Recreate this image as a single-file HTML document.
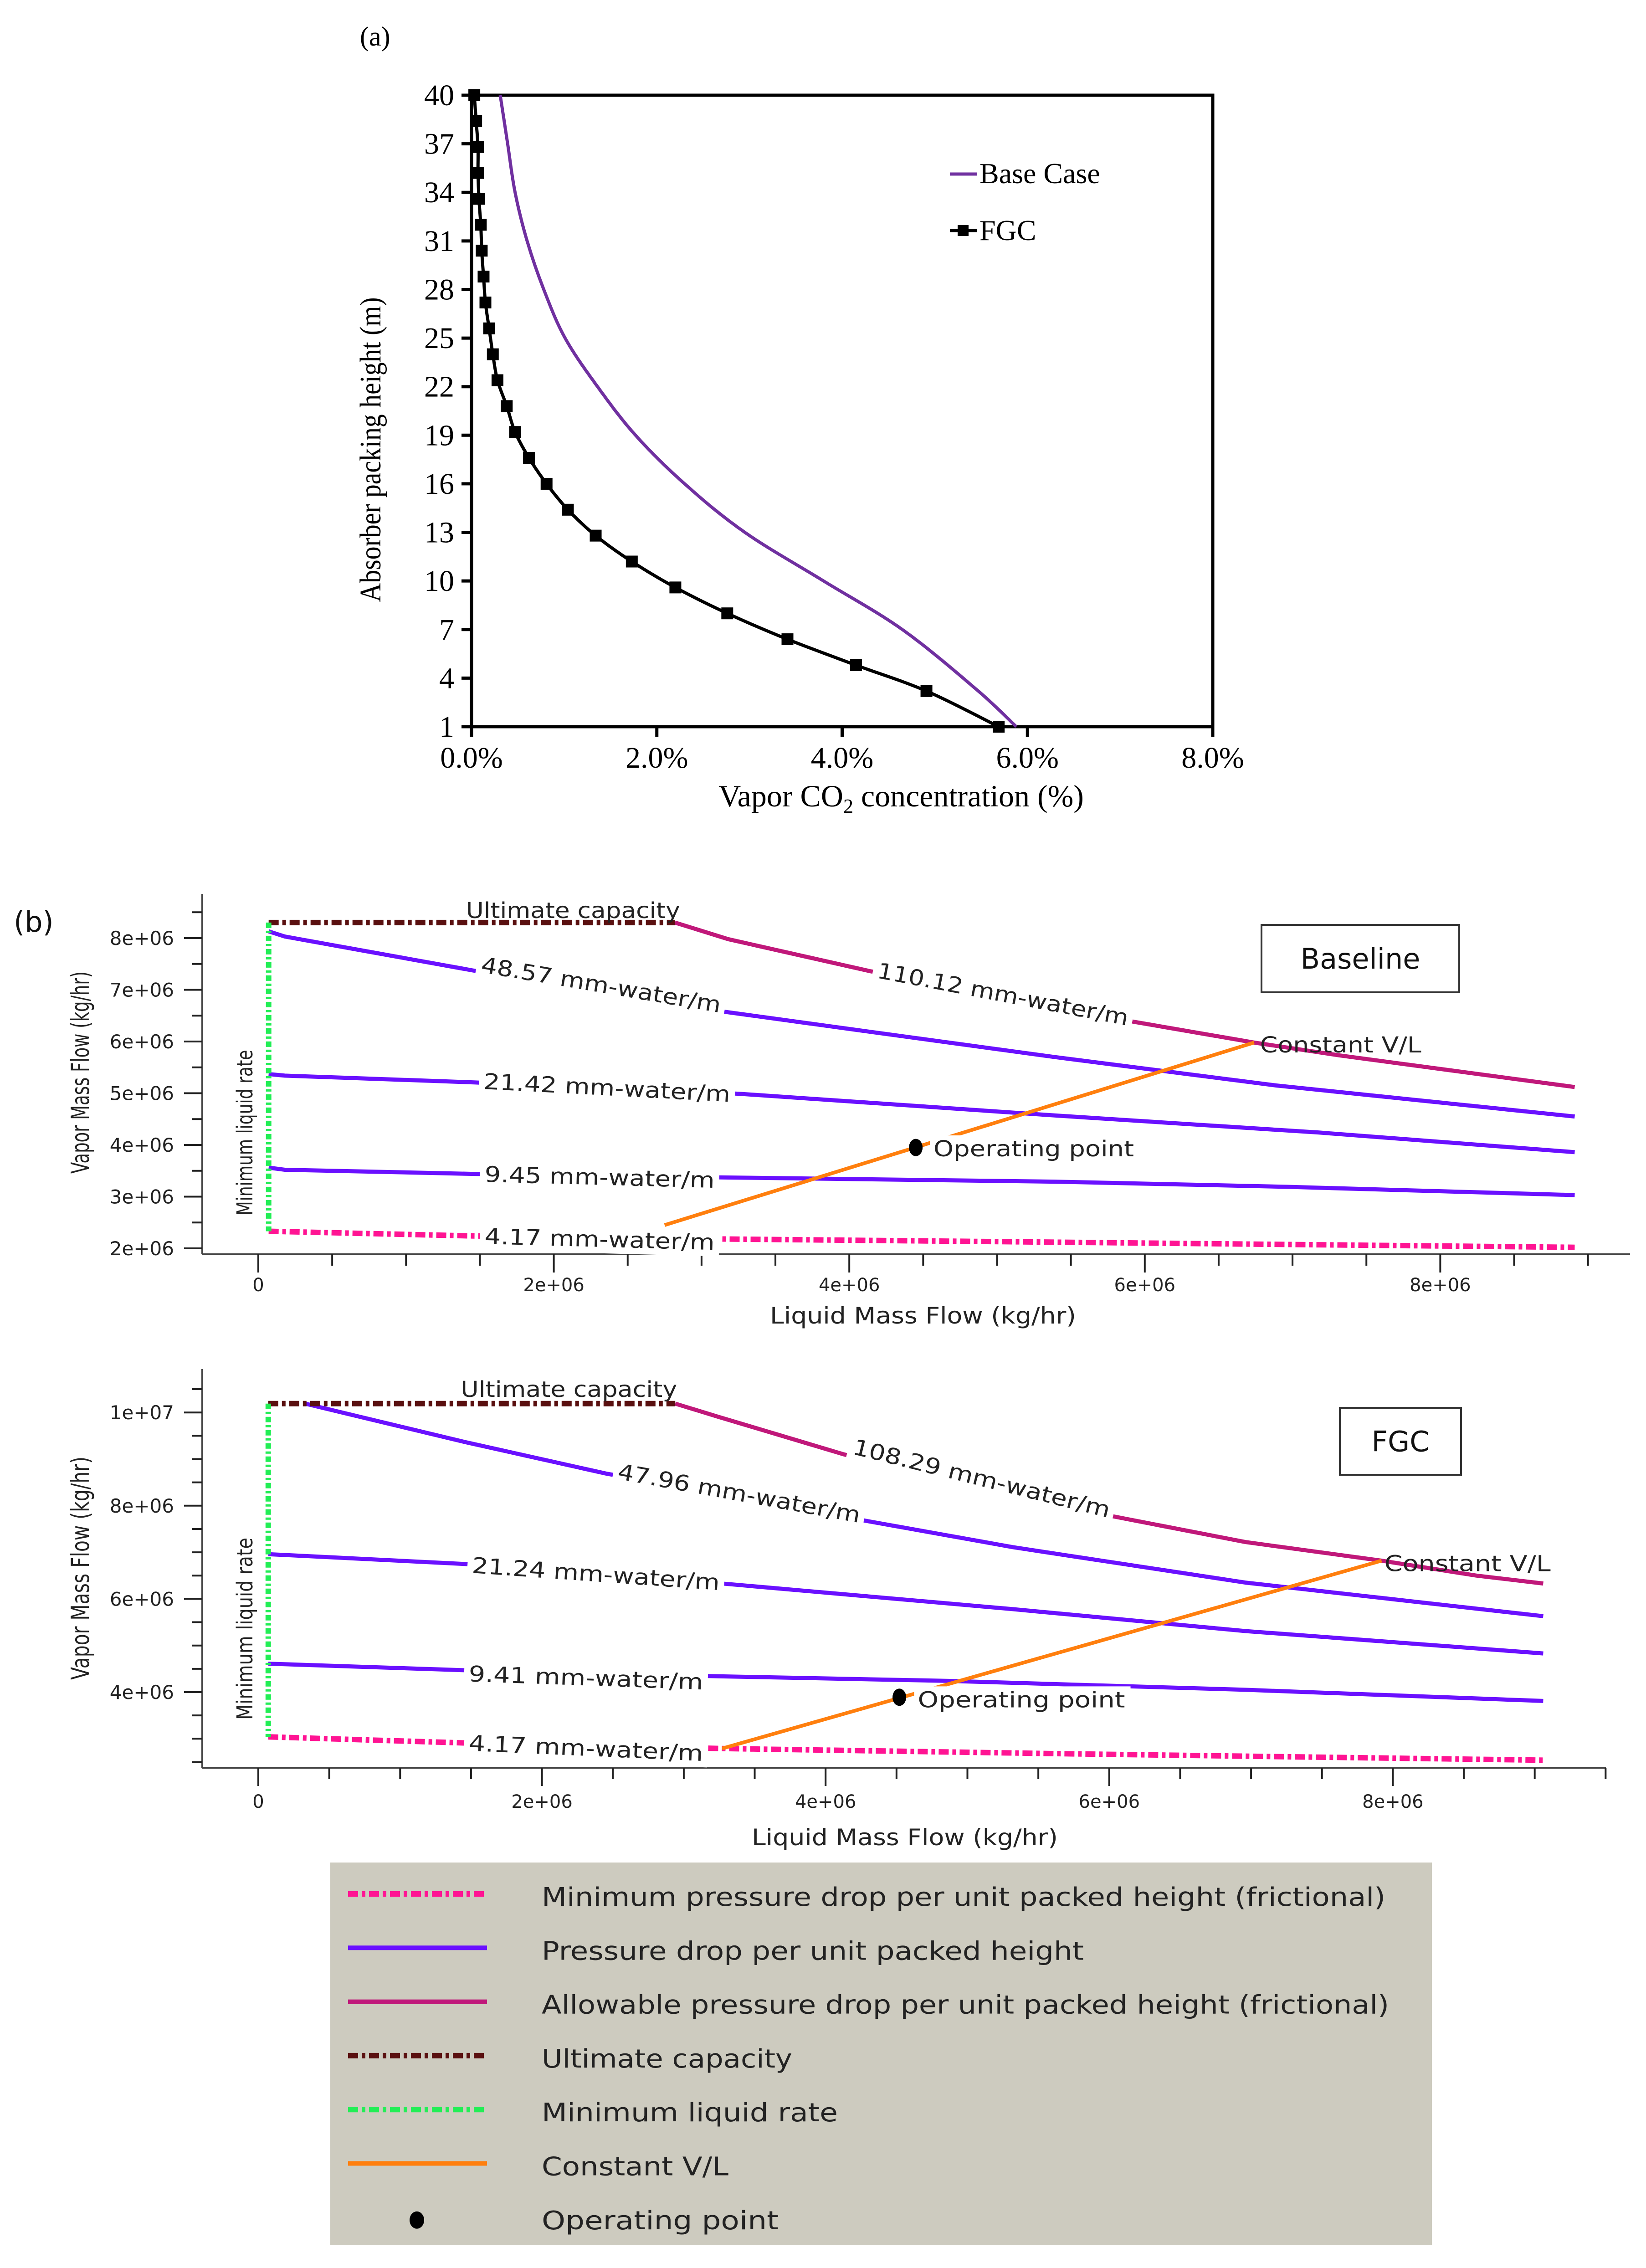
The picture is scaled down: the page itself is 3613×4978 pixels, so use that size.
<!DOCTYPE html>
<html><head><meta charset="utf-8"><style>
html,body{margin:0;padding:0;background:#fff}
svg{display:block}
.serif{font-family:"Liberation Serif",serif}
.sans{font-family:"DejaVu Sans","Liberation Sans",sans-serif}
</style></head><body>
<svg id="fig" width="3613" height="4978" viewBox="0 0 3613 4978" xmlns="http://www.w3.org/2000/svg">
<rect width="3613" height="4978" fill="#fff"/>
<g id="chartA"></g>
<g id="chartB1"></g>
<g id="chartB2"></g>
<g id="legendB"></g>
</svg>
<script>
// ---------- Chart (a) data ----------
const aYTicks = [1,4,7,10,13,16,19,22,25,28,31,34,37,40];
const aXTicks = [0,2,4,6,8];
const baseCaseX = [5.88,5.45,4.65,3.80,2.95,2.30,1.77,1.36,1.01,0.78,0.60,0.47,0.39,0.31];
const baseCaseY = [1,3.3,7,10,13,16,19,22,25,28,31,34,37,40];
const fgcX = [5.69,4.91,4.15,3.41,2.76,2.20,1.73,1.34,1.04,0.81,0.62,0.47,0.38,0.28,0.23,0.19,0.15,0.13,0.11,0.10,0.08,0.07,0.07,0.05,0.03];
const fgcY = [1.0,3.2,4.8,6.4,8.0,9.6,11.2,12.8,14.4,16.0,17.6,19.2,20.8,22.4,24.0,25.6,27.2,28.8,30.4,32.0,33.6,35.2,36.8,38.4,40];

// ---------- Chart (b) Baseline data (L, V in 1e6 kg/hr) ----------
const bTicksX = [0,2,4,6,8];
const b1TicksY = [2,3,4,5,6,7,8];
const b1UltL = [0.07,2.82];
const b1UltV = [8.30,8.30];
const b1MinLiqL = [0.07,0.07];
const b1MinLiqV = [8.30,2.33];
const b1AllowL = [2.82,3.18,4.14,5.93,6.74,7.32,8.91];
const b1AllowV = [8.30,7.98,7.36,6.38,5.98,5.73,5.12];
const b1P48L = [0.07,0.18,1.46,2.89,4.11,5.39,6.89,8.91];
const b1P48V = [8.13,8.03,7.37,6.68,6.20,5.70,5.15,4.55];
const b1P21L = [0.07,0.18,1.46,3.25,5.39,7.18,8.91];
const b1P21V = [5.37,5.34,5.21,4.99,4.57,4.24,3.86];
const b1P9L = [0.07,0.18,1.46,3.18,5.39,6.96,8.91];
const b1P9V = [3.56,3.52,3.44,3.37,3.29,3.19,3.03];
const b1MinPL = [0.07,1.46,3.18,5.39,8.91];
const b1MinPV = [2.33,2.24,2.18,2.12,2.02];
const b1VLL = [2.75,6.74];
const b1VLV = [2.45,5.98];
const b1OpL = [4.45];
const b1OpV = [3.95];

// ---------- Chart (b) FGC data ----------
const b2TicksY = [4,6,8,10];
const b2UltL = [0.07,2.94];
const b2UltV = [10.19,10.19];
const b2MinLiqL = [0.07,0.07];
const b2MinLiqV = [10.19,3.04];
const b2AllowL = [2.94,3.24,4.13,5.32,6.96,7.92,8.59,9.06];
const b2AllowV = [10.19,9.91,9.10,8.19,7.22,6.82,6.50,6.33];
const b2P47L = [0.33,1.45,2.45,4.13,5.32,6.96,9.06];
const b2P47V = [10.19,9.37,8.69,7.76,7.11,6.35,5.63];
const b2P21L = [0.07,1.45,3.31,5.32,6.96,9.06];
const b2P21V = [6.96,6.75,6.32,5.78,5.31,4.83];
const b2P9L = [0.07,1.45,3.24,4.87,6.96,9.06];
const b2P9V = [4.61,4.47,4.34,4.24,4.05,3.81];
const b2MinPL = [0.07,1.45,3.27,5.62,9.06];
const b2MinPV = [3.04,2.91,2.79,2.68,2.54];
const b2VLL = [3.27,7.92];
const b2VLV = [2.79,6.82];
const b2OpL = [4.52];
const b2OpV = [3.89];

const NS = "http://www.w3.org/2000/svg";
function mk(parent, tag, attrs, text){
  const e = document.createElementNS(NS, tag);
  for (const k in attrs) e.setAttribute(k, attrs[k]);
  if (text !== undefined) e.textContent = text;
  parent.appendChild(e);
  return e;
}
function smoothPath(pts){
  let d = 'M'+pts[0][0].toFixed(1)+' '+pts[0][1].toFixed(1);
  for (let i=0;i<pts.length-1;i++){
    const p0=pts[Math.max(0,i-1)], p1=pts[i], p2=pts[i+1], p3=pts[Math.min(pts.length-1,i+2)];
    const c1=[p1[0]+(p2[0]-p0[0])/6, p1[1]+(p2[1]-p0[1])/6];
    const c2=[p2[0]-(p3[0]-p1[0])/6, p2[1]-(p3[1]-p1[1])/6];
    d += ' C'+c1[0].toFixed(1)+' '+c1[1].toFixed(1)+' '+c2[0].toFixed(1)+' '+c2[1].toFixed(1)+' '+p2[0].toFixed(1)+' '+p2[1].toFixed(1);
  }
  return d;
}

// ================= Chart (a) =================
(function(){
  const g = document.getElementById('chartA');
  const X0=1035, X1=2662, Y0=1595, Y1=209;
  const sx = v => X0 + (v/8)*(X1-X0);
  const sy = v => Y0 - ((v-1)/39)*(Y0-Y1);
  let t = mk(g,'text',{x:790,y:100,'font-size':60,class:'serif'},'(a)');
  
  
  let r = mk(g,'rect',{x:X0,y:Y1,width:X1-X0,height:Y0-Y1,fill:'none',stroke:'#000','stroke-width':7});
  
  
  aYTicks.forEach(v=>{
    const y=sy(v);
    const l = mk(g,'line',{x1:X0-22,x2:X0,y1:y,y2:y,stroke:'#000','stroke-width':7});
    
    
    const tx = mk(g,'text',{x:X0-38,y:y+22,'font-size':66,'text-anchor':'end',class:'serif'},String(v));
    
    
  });
  aXTicks.forEach(v=>{
    const x=sx(v);
    const l = mk(g,'line',{x1:x,x2:x,y1:Y0,y2:Y0+22,stroke:'#000','stroke-width':7});
    
    
    const tx = mk(g,'text',{x:x,y:Y0+90,'font-size':66,'text-anchor':'middle',class:'serif'},v.toFixed(1)+'%');
    
    
  });
  t = mk(g,'text',{x:1978,y:1770,'font-size':68,'text-anchor':'middle',class:'serif'});
  t.innerHTML = 'Vapor CO<tspan font-size="44" dy="14">2</tspan><tspan dy="-14"> concentration (%)</tspan>';
  
  
  t = mk(g,'text',{x:0,y:0,'font-size':66,'text-anchor':'middle',class:'serif',transform:'translate(835,987) rotate(-90)',textLength:669,lengthAdjust:'spacingAndGlyphs'},'Absorber packing height (m)');
  
  

  let p = mk(g,'path',{d:smoothPath(baseCaseX.map((v,i)=>[sx(v),sy(baseCaseY[i])])),fill:'none',stroke:'#7030a0','stroke-width':7,'stroke-linejoin':'round'});
  
  
  p = mk(g,'path',{d:smoothPath(fgcX.map((v,i)=>[sx(v),sy(fgcY[i])])),fill:'none',stroke:'#000','stroke-width':7,'stroke-linejoin':'round'});
  
  
  fgcX.forEach((v,i)=>{
    const m = mk(g,'rect',{x:sx(v)-13,y:sy(fgcY[i])-13,width:26,height:26,fill:'#000'});
    
    
  });
  let l = mk(g,'line',{x1:2085,x2:2145,y1:382,y2:382,stroke:'#7030a0','stroke-width':7});
  
  
  t = mk(g,'text',{x:2150,y:402,'font-size':64,class:'serif'},'Base Case');
  
  
  l = mk(g,'line',{x1:2085,x2:2145,y1:506,y2:506,stroke:'#000','stroke-width':7});
  
  
  const lm = mk(g,'rect',{x:2102,y:494,width:24,height:24,fill:'#000'});
  
  
  t = mk(g,'text',{x:2150,y:527,'font-size':64,class:'serif'},'FGC');
  
  
})();

// ================= Chart (b) panels =================
const COL = {purple:'#6a10ff', allow:'#c0187a', ult:'#5a1010', green:'#22ee55', pink:'#ff1493', orange:'#ff7f0e'};

function panel(cfg){
  const g = document.getElementById(cfg.id);
  const sx = v => cfg.x0 + v*cfg.px;
  const sy = v => cfg.yRef - (v-cfg.vRef)*cfg.py;
  let a = mk(g,'line',{x1:cfg.axX,x2:cfg.axX,y1:cfg.axTop,y2:cfg.axY,stroke:'#444','stroke-width':4});
  
  
  a = mk(g,'line',{x1:cfg.axX,x2:cfg.axRight,y1:cfg.axY,y2:cfg.axY,stroke:'#444','stroke-width':4});
  
  
  for (let v=cfg.yMinorLo; v<=cfg.yMinorHi+1e-9; v+=0.5){
    const major = cfg.ticksY.some(t=>Math.abs(t-v)<1e-6);
    const y=sy(v);
    const l = mk(g,'line',{x1:cfg.axX-(major?40:22),x2:cfg.axX,y1:y,y2:y,stroke:'#222','stroke-width':4});
    
    
  }
  cfg.ticksY.forEach(v=>{
    const t = mk(g,'text',{x:382,y:sy(v)+15,'font-size':42,'text-anchor':'end',class:'sans',fill:'#222'},v>=10?'1e+07':v+'e+06');
    
    
  });
  for (let v=0; v<=cfg.xMinorHi+1e-9; v+=0.5){
    const major = Math.abs(v-Math.round(v))<1e-6 && Math.round(v)%2===0;
    const x=sx(v);
    const l = mk(g,'line',{x1:x,x2:x,y1:cfg.axY,y2:cfg.axY+(major?40:25),stroke:'#222','stroke-width':4});
    
    
  }
  bTicksX.forEach(v=>{
    const t = mk(g,'text',{x:sx(v),y:cfg.xLabY,'font-size':40,'text-anchor':'middle',class:'sans',fill:'#222'},v===0?'0':v+'e+06');
    
    
  });
  let t = mk(g,'text',{x:cfg.xTitleX,y:cfg.xTitleY,'font-size':50,'text-anchor':'middle',class:'sans',fill:'#222',textLength:672,lengthAdjust:'spacingAndGlyphs'},'Liquid Mass Flow (kg/hr)');
  
  
  t = mk(g,'text',{x:0,y:0,'font-size':54,'text-anchor':'middle',class:'sans',fill:'#222',transform:'translate(195,'+cfg.yTitleY+') rotate(-90)',textLength:cfg.yTitleLen,lengthAdjust:'spacingAndGlyphs'},'Vapor Mass Flow (kg/hr)');
  
  
  t = mk(g,'text',{x:0,y:0,'font-size':48,'text-anchor':'middle',class:'sans',fill:'#222',transform:'translate(554,'+cfg.minLiqY+') rotate(-90)',textLength:cfg.minLiqLen,lengthAdjust:'spacingAndGlyphs'},'Minimum liquid rate');
  
  

  function series(L,V,color,w,dash,name){
    const d = L.map((v,i)=>(i?'L':'M')+sx(v).toFixed(1)+' '+sy(V[i]).toFixed(1)).join(' ');
    const at = {d:d,fill:'none',stroke:color,'stroke-width':w,'stroke-linejoin':'round'};
    if (dash) at['stroke-dasharray']=dash;
    const p = mk(g,'path',at);
    
    
  }
  const D = cfg.data;
  series(D.minPL,D.minPV,COL.pink,12,'22 8 8 8','min-pressure-drop-line');
  series(D.p9L,D.p9V,COL.purple,9,null,'pressure-drop-low-line');
  series(D.p21L,D.p21V,COL.purple,9,null,'pressure-drop-mid-line');
  series(D.p48L,D.p48V,COL.purple,9,null,'pressure-drop-high-line');
  series(D.allowL,D.allowV,COL.allow,9,null,'allowable-pressure-drop-line');
  series(D.vlL,D.vlV,COL.orange,8,null,'constant-vl-line');
  series(D.ultL,D.ultV,COL.ult,12,'22 8 8 8','ultimate-capacity-line');
  series(D.minLiqL,D.minLiqV,COL.green,12,'12 6 5 6','minimum-liquid-rate-line');
  const op = mk(g,'ellipse',{cx:sx(D.opL[0]),cy:sy(D.opV[0]),rx:15,ry:19,fill:'#000'});
  
  

  cfg.labels.forEach(lb=>{
    const x=sx(lb.L), y=sy(lb.V);
    const grp = mk(g,'g',{transform:'translate('+x+','+y+') rotate('+lb.rot+')'});
    
    
    if (lb.box) mk(grp,'rect',{x:lb.anchor==='start'?-8:-lb.len/2-10,y:-30,width:lb.len+20,height:60,fill:'#fff'});
    mk(grp,'text',{x:0,y:16,'font-size':48,'text-anchor':lb.anchor||'middle',class:'sans',fill:'#222',textLength:lb.len,lengthAdjust:'spacingAndGlyphs'},lb.text);
  });
  const bx = mk(g,'rect',{x:cfg.box[0],y:cfg.box[1],width:cfg.box[2],height:cfg.box[3],fill:'#fff',stroke:'#333','stroke-width':4});
  
  
  t = mk(g,'text',{x:cfg.box[0]+cfg.box[2]/2,y:cfg.box[1]+cfg.box[3]/2+22,'font-size':62,'text-anchor':'middle',class:'sans',fill:'#111'},cfg.boxText);
  
  
}

const pl = document.getElementById('chartB1');
let bt = mk(pl,'text',{x:30,y:2045,'font-size':62,class:'sans',fill:'#111'},'(b)');



panel({id:'chartB1', x0:567, px:324.3, yRef:2740, vRef:2, py:113.5,
  axX:444, axTop:1962, axY:2753, axRight:3578, yMinorLo:2, yMinorHi:8.5, xMinorHi:9, ticksY:b1TicksY,
  xLabY:2834, xTitleX:2026, xTitleY:2905, yTitleY:2354, yTitleLen:444, minLiqY:2486, minLiqLen:363,
  box:[2769,2030,434,148], boxText:'Baseline',
  data:{minPL:b1MinPL,minPV:b1MinPV,p9L:b1P9L,p9V:b1P9V,p21L:b1P21L,p21V:b1P21V,p48L:b1P48L,p48V:b1P48V,
    allowL:b1AllowL,allowV:b1AllowV,vlL:b1VLL,vlV:b1VLV,ultL:b1UltL,ultV:b1UltV,minLiqL:b1MinLiqL,minLiqV:b1MinLiqV,opL:b1OpL,opV:b1OpV},
  labels:[
    {text:'Ultimate capacity',L:2.13,V:8.53,rot:0,len:470,box:false,name:'ultimate-capacity-label'},
    {text:'110.12 mm-water/m',L:5.04,V:6.91,rot:10.8,len:560,box:true,name:'allowable-label'},
    {text:'48.57 mm-water/m',L:2.32,V:7.09,rot:9.6,len:533,box:true,name:'pressure-48-label'},
    {text:'21.42 mm-water/m',L:2.36,V:5.10,rot:3,len:542,box:true,name:'pressure-21-label'},
    {text:'9.45 mm-water/m',L:2.31,V:3.37,rot:1.5,len:505,box:true,name:'pressure-9-label'},
    {text:'4.17 mm-water/m',L:2.31,V:2.17,rot:1.5,len:505,box:true,name:'pressure-4-label'},
    {text:'Constant V/L',L:6.78,V:5.93,rot:0,len:354,box:false,anchor:'start',name:'constant-vl-label'},
    {text:'Operating point',L:4.57,V:3.92,rot:0,len:440,box:true,anchor:'start',name:'operating-point-label'}
  ]});

panel({id:'chartB2', x0:567, px:311.3, yRef:3714, vRef:4, py:102.3,
  axX:444, axTop:3005, axY:3880, axRight:3525, yMinorLo:2.5, yMinorHi:10.5, xMinorHi:9.5, ticksY:b2TicksY,
  xLabY:3968, xTitleX:1986, xTitleY:4050, yTitleY:3442, yTitleLen:490, minLiqY:3575, minLiqLen:400,
  box:[2941,3090,266,147], boxText:'FGC',
  data:{minPL:b2MinPL,minPV:b2MinPV,p9L:b2P9L,p9V:b2P9V,p21L:b2P21L,p21V:b2P21V,p48L:b2P47L,p48V:b2P47V,
    allowL:b2AllowL,allowV:b2AllowV,vlL:b2VLL,vlV:b2VLV,ultL:b2UltL,ultV:b2UltV,minLiqL:b2MinLiqL,minLiqV:b2MinLiqV,opL:b2OpL,opV:b2OpV},
  labels:[
    {text:'Ultimate capacity',L:2.19,V:10.49,rot:0,len:475,box:false,name:'ultimate-capacity-label'},
    {text:'108.29 mm-water/m',L:5.1,V:8.58,rot:14,len:580,box:true,name:'allowable-label'},
    {text:'47.96 mm-water/m',L:3.39,V:8.26,rot:10.3,len:540,box:true,name:'pressure-48-label'},
    {text:'21.24 mm-water/m',L:2.38,V:6.53,rot:4,len:545,box:true,name:'pressure-21-label'},
    {text:'9.41 mm-water/m',L:2.31,V:4.30,rot:2,len:515,box:true,name:'pressure-9-label'},
    {text:'4.17 mm-water/m',L:2.31,V:2.79,rot:2.5,len:515,box:true,name:'pressure-4-label'},
    {text:'Constant V/L',L:7.94,V:6.75,rot:0,len:365,box:false,anchor:'start',name:'constant-vl-label'},
    {text:'Operating point',L:4.65,V:3.83,rot:0,len:455,box:true,anchor:'start',name:'operating-point-label'}
  ]});

// ================= Legend =================
(function(){
  const g = document.getElementById('legendB');
  const bg = mk(g,'rect',{x:725,y:4088,width:2418,height:840,fill:'#cdcbbf'});
  
  
  const items = [
    {t:'Minimum pressure drop per unit packed height (frictional)',c:COL.pink,dash:'22 8 8 8',w:12,len:1852,n:'legend-min-pressure-drop'},
    {t:'Pressure drop per unit packed height',c:COL.purple,dash:null,w:10,len:1190,n:'legend-pressure-drop'},
    {t:'Allowable pressure drop per unit packed height (frictional)',c:COL.allow,dash:null,w:10,len:1860,n:'legend-allowable-pressure-drop'},
    {t:'Ultimate capacity',c:COL.ult,dash:'22 8 8 8',w:12,len:550,n:'legend-ultimate-capacity'},
    {t:'Minimum liquid rate',c:COL.green,dash:'22 8 8 8',w:12,len:650,n:'legend-minimum-liquid-rate'},
    {t:'Constant V/L',c:COL.orange,dash:null,w:10,len:410,n:'legend-constant-vl'},
    {t:'Operating point',c:'#000',dash:null,w:0,len:520,n:'legend-operating-point'}
  ];
  items.forEach((it,i)=>{
    const y = 4165 + i*118.3;
    if (it.w){
      const at = {x1:764,x2:1069,y1:y-8,y2:y-8,stroke:it.c,'stroke-width':it.w};
      if (it.dash) at['stroke-dasharray']=it.dash;
      const l = mk(g,'line',at);
      
      
    } else {
      const e = mk(g,'ellipse',{cx:915,cy:y-2,rx:16,ry:19,fill:'#000'});
      
      
    }
    const t = mk(g,'text',{x:1189,y:y+18,'font-size':56,class:'sans',fill:'#222',textLength:it.len,lengthAdjust:'spacingAndGlyphs'},it.t);
    
    
  });
})();
</script>
</body></html>
